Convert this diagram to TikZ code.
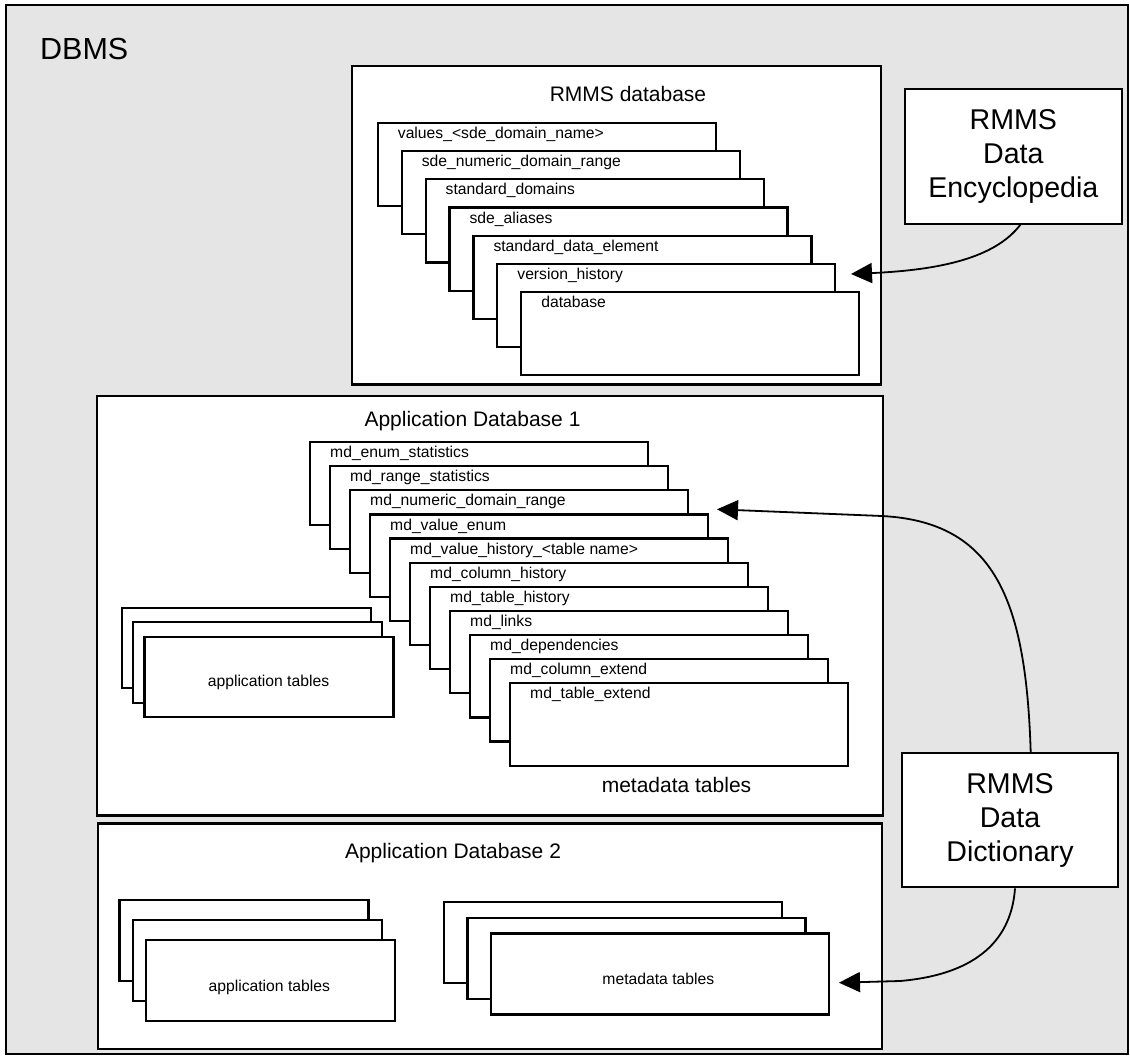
\documentclass[tikz,border=0pt]{standalone}
\usepackage{fontspec}
\setmainfont{Liberation Sans}
\usetikzlibrary{arrows.meta,calc}
\begin{document}
\begin{tikzpicture}[x=1pt,y=-1pt,
  container/.style={draw=black, line width=2.2pt, fill=white, rectangle, inner sep=0pt, anchor=north west},
  tbl/.style={draw=black, line width=2.2pt, fill=white, rectangle, inner sep=0pt, anchor=north west},
  tbllabel/.style={anchor=base west, inner sep=0pt, font=\fontsize{15.7}{18}\selectfont},
  grouplabel/.style={anchor=base, inner sep=0pt, font=\fontsize{15.7}{18}\selectfont},
  title/.style={anchor=base, inner sep=0pt, font=\fontsize{21}{24}\selectfont},
  side/.style={draw=black, line width=2.2pt, fill=white, align=center, inner sep=0pt,
    minimum width=216.7pt, minimum height=135pt, font=\fontsize{28.6}{34}\selectfont},
  feed/.style={line width=1.8pt, -{Triangle[length=21pt,width=20pt]}}
]
\useasboundingbox (0,0) rectangle (1130,1057);

% DBMS frame with its stippled backdrop
\node[container, fill=black!10, line width=2.4pt, minimum width=1122pt, minimum height=1049pt] (dbmsframe) at (5,4) {};
\node[anchor=base west, inner sep=0pt, font=\fontsize{30.5}{36}\selectfont] (dbms) at (40,59.5) {DBMS};

% ---------------- RMMS database ----------------
\node[container, minimum width=529.3pt, minimum height=318.3pt] (rmms) at (350.7,65) {};
\node[title] (rmmsT) at (628,101.7) {RMMS database};
\foreach \t [count=\i from 0] in {values\_<sde\_domain\_name>, sde\_numeric\_domain\_range,
    standard\_domains, sde\_aliases, standard\_data\_element, version\_history, database} {
  \node[tbl, minimum width=338pt, minimum height=83.3pt] (rm\i) at ({376.7+23.9*\i},{121.7+28.2*\i}) {};
  \node[tbllabel] (rml\i) at ($(rm\i.north west)+(21,16.7)$) {\t};
}

% ---------------- Application Database 1 ----------------
\node[container, minimum width=785.5pt, minimum height=419.3pt] (ad1) at (96,395) {};
\node[title] (ad1T) at (472.5,426) {Application Database 1};
\foreach \i in {0,1,2} {
  \node[tbl, minimum width=249pt, minimum height=80.5pt] (aa\i) at ({120.7+11.3*\i},{606.7+14.5*\i}) {};
}
\node[grouplabel] (aaL) at (268.5,686.7) {application tables};
\foreach \t [count=\i from 0] in {md\_enum\_statistics, md\_range\_statistics, md\_numeric\_domain\_range,
    md\_value\_enum, md\_value\_history\_<table name>, md\_column\_history, md\_table\_history,
    md\_links, md\_dependencies, md\_column\_extend, md\_table\_extend} {
  \node[tbl, minimum width=337.5pt, minimum height=82.5pt] (am\i) at ({309+20*\i},{441+24.1*\i}) {};
  \node[tbllabel] (aml\i) at ($(am\i.north west)+(21,16.7)$) {\t};
}
\node[title] (amL) at (676.5,792.7) {metadata tables};

% ---------------- Application Database 2 ----------------
\node[container, minimum width=784.2pt, minimum height=225.2pt] (ad2) at (96.5,822.3) {};
\node[title] (ad2T) at (453,858.3) {Application Database 2};
\foreach \i in {0,1,2} {
  \node[tbl, minimum width=249pt, minimum height=81pt] (ba\i) at ({118.3+13.3*\i},{899+20*\i}) {};
  \node[tbl, minimum width=338pt, minimum height=81pt] (bm\i) at ({442.7+23.6*\i},{901+15.7*\i}) {};
}
\node[grouplabel] (baL) at (269.3,991) {application tables};
\node[grouplabel] (bmL) at (658.3,984.3) {metadata tables};

% ---------------- RMMS tools ----------------
\node[side] (enc) at (1013.3,156.2) {RMMS\\Data\\Encyclopedia};
\node[side, minimum height=134pt] (dict) at (1010,820.3) {RMMS\\Data\\Dictionary};

\coordinate (encTip) at (851,274);
\coordinate (ad1Tip) at (717,509.3);
\coordinate (ad2Tip) at (839,982.7);

\draw[feed] ([xshift=7pt]enc.south) .. controls (995,258) and (940,270) .. (encTip);
\draw[feed] ([xshift=20.7pt]dict.north) .. controls (1026,600) and (995,522) .. (882,516) -- (ad1Tip);
\draw[feed] ([xshift=5pt]dict.south) .. controls (1011,945) and (970,975) .. (900,981) -- (ad2Tip);
\end{tikzpicture}
\end{document}
